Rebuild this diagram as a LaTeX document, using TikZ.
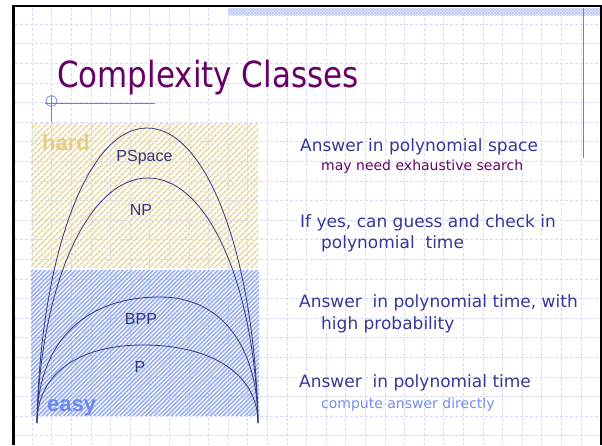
\documentclass[tikz,border=0pt]{standalone}
\usepackage{fontspec}
\setmainfont{DejaVu Sans}
\newfontfamily\titlefont[FakeStretch=0.86]{DejaVu Sans}
\newfontfamily\labelfont{Liberation Sans}
\usetikzlibrary{patterns, patterns.meta}
\definecolor{gridblue}{HTML}{D2DBF8}
\definecolor{textblue}{HTML}{363696}
\definecolor{titlepurple}{HTML}{660066}
\definecolor{hatchyellow}{HTML}{EEDA94}
\definecolor{hardyellow}{HTML}{E4CE80}
\definecolor{hatchblue}{HTML}{98ADF2}
\definecolor{easyblue}{HTML}{6F88EE}
\definecolor{arcblue}{HTML}{34347E}
\definecolor{ornblue}{HTML}{6680E6}
\definecolor{hintblue}{HTML}{6F8CF0}

\begin{document}
\begin{tikzpicture}[x=1pt, y=-1pt,
    gridline/.style={draw=gridblue, line width=0.5pt, dash pattern=on 3pt off 2pt},
    classarc/.style={draw=arcblue, line width=0.8pt},
    classlabel/.style={anchor=base, inner sep=0pt, text=arcblue, font=\labelfont\fontsize{16}{18}\selectfont},
    answer/.style={anchor=base west, inner sep=0pt, text=textblue, font=\fontsize{17}{20}\selectfont},
    hint/.style={anchor=base west, inner sep=0pt, font=\fontsize{14}{16}\selectfont}]
    \useasboundingbox (0,0) rectangle (602,445);

    % Background grid
    \foreach \i in {0,...,28}
        \draw[gridline] ({32+19.6*\i},7.5) -- ({32+19.6*\i},445);
    \foreach \j in {0,...,21}
        \draw[gridline] (15,{24+19.6*\j}) -- (600,{24+19.6*\j});

    % Slide frame and decorations
    \fill[gridblue!70] (228,8) rectangle (600,15);
    \fill[pattern=crosshatch, pattern color=gridblue!80!ornblue] (228,8) rectangle (600,15);
    \draw[line width=2.5pt] (13.5,445) -- (13.5,6.2) -- (601,6.2) -- (601,445);
    \draw[ornblue, line width=1pt] (583,7.5) -- (583,158);
    \draw[ornblue, line width=0.9pt] (45,103) -- (155,103);
    \draw[ornblue, line width=0.9pt] (51.5,96) -- (51.5,122);
    \draw[ornblue, line width=0.7pt] (51.5,101) circle (5.5);

    % Title
    \node[anchor=base west, inner sep=0pt, text=titlepurple,
          font=\titlefont\fontsize{36}{40}\selectfont] (title) at (57,87) {Complexity Classes};

    % Hard and easy regions
    \fill[pattern={Lines[angle=45, distance=4pt, line width=1.9pt]}, pattern color=hatchyellow]
        (31,123) rectangle (258,267);
    \fill[pattern={Lines[angle=45, distance=3.05pt, line width=1.6pt]}, pattern color=hatchblue]
        (31,270) rectangle (259,415);
    \node[anchor=base west, inner sep=0pt, text=hardyellow,
          font=\labelfont\bfseries\fontsize{22}{24}\selectfont] (hard) at (42,150) {hard};
    \node[anchor=base west, inner sep=0pt, text=easyblue,
          font=\labelfont\bfseries\fontsize{22}{24}\selectfont] (easy) at (47,411) {easy};

    % Nested classes
    \coordinate (lo) at (37,423);
    \coordinate (ro) at (258,423);
    \draw[classarc] (lo) .. controls +(3,-163) and +(-61,0) .. (147,128)
                         .. controls +(61,0) and +(-3,-163) .. (ro);
    \draw[classarc] (lo) .. controls +(3,-135) and +(-61,0) .. (148,178)
                         .. controls +(61,0) and +(-3,-135) .. (ro);
    \draw[classarc] (lo) .. controls +(0,-76) and +(-80,0) .. (160,297)
                         .. controls +(62,0) and +(0,-76) .. (ro);
    \draw[classarc] (lo) .. controls +(0,-48) and +(-66,0) .. (143,345)
                         .. controls +(70,0) and +(0,-48) .. (ro);
    \node[classlabel] (pspace) at (144.5,161) {PSpace};
    \node[classlabel] (np) at (141,215) {NP};
    \node[classlabel] (bpp) at (141,324) {BPP};
    \node[classlabel] (p) at (140,372) {P};

    % Descriptions
    \node[answer] (pspacetxt) at (300,151) {Answer in polynomial space};
    \node[hint, text=titlepurple] (pspacehint) at (321,170) {may need exhaustive search};
    \node[answer] (nptxt) at (300,227) {If yes, can guess and check in};
    \node[answer] (nptxtb) at (321,248) {polynomial~ time};
    \node[answer] (bpptxt) at (299,307) {Answer~ in polynomial time, with};
    \node[answer] (bpptxtb) at (321,329) {high probability};
    \node[answer] (ptxt) at (299,387) {Answer~ in polynomial time};
    \node[hint, text=hintblue] (phint) at (321,408) {compute answer directly};
\end{tikzpicture}
\end{document}
